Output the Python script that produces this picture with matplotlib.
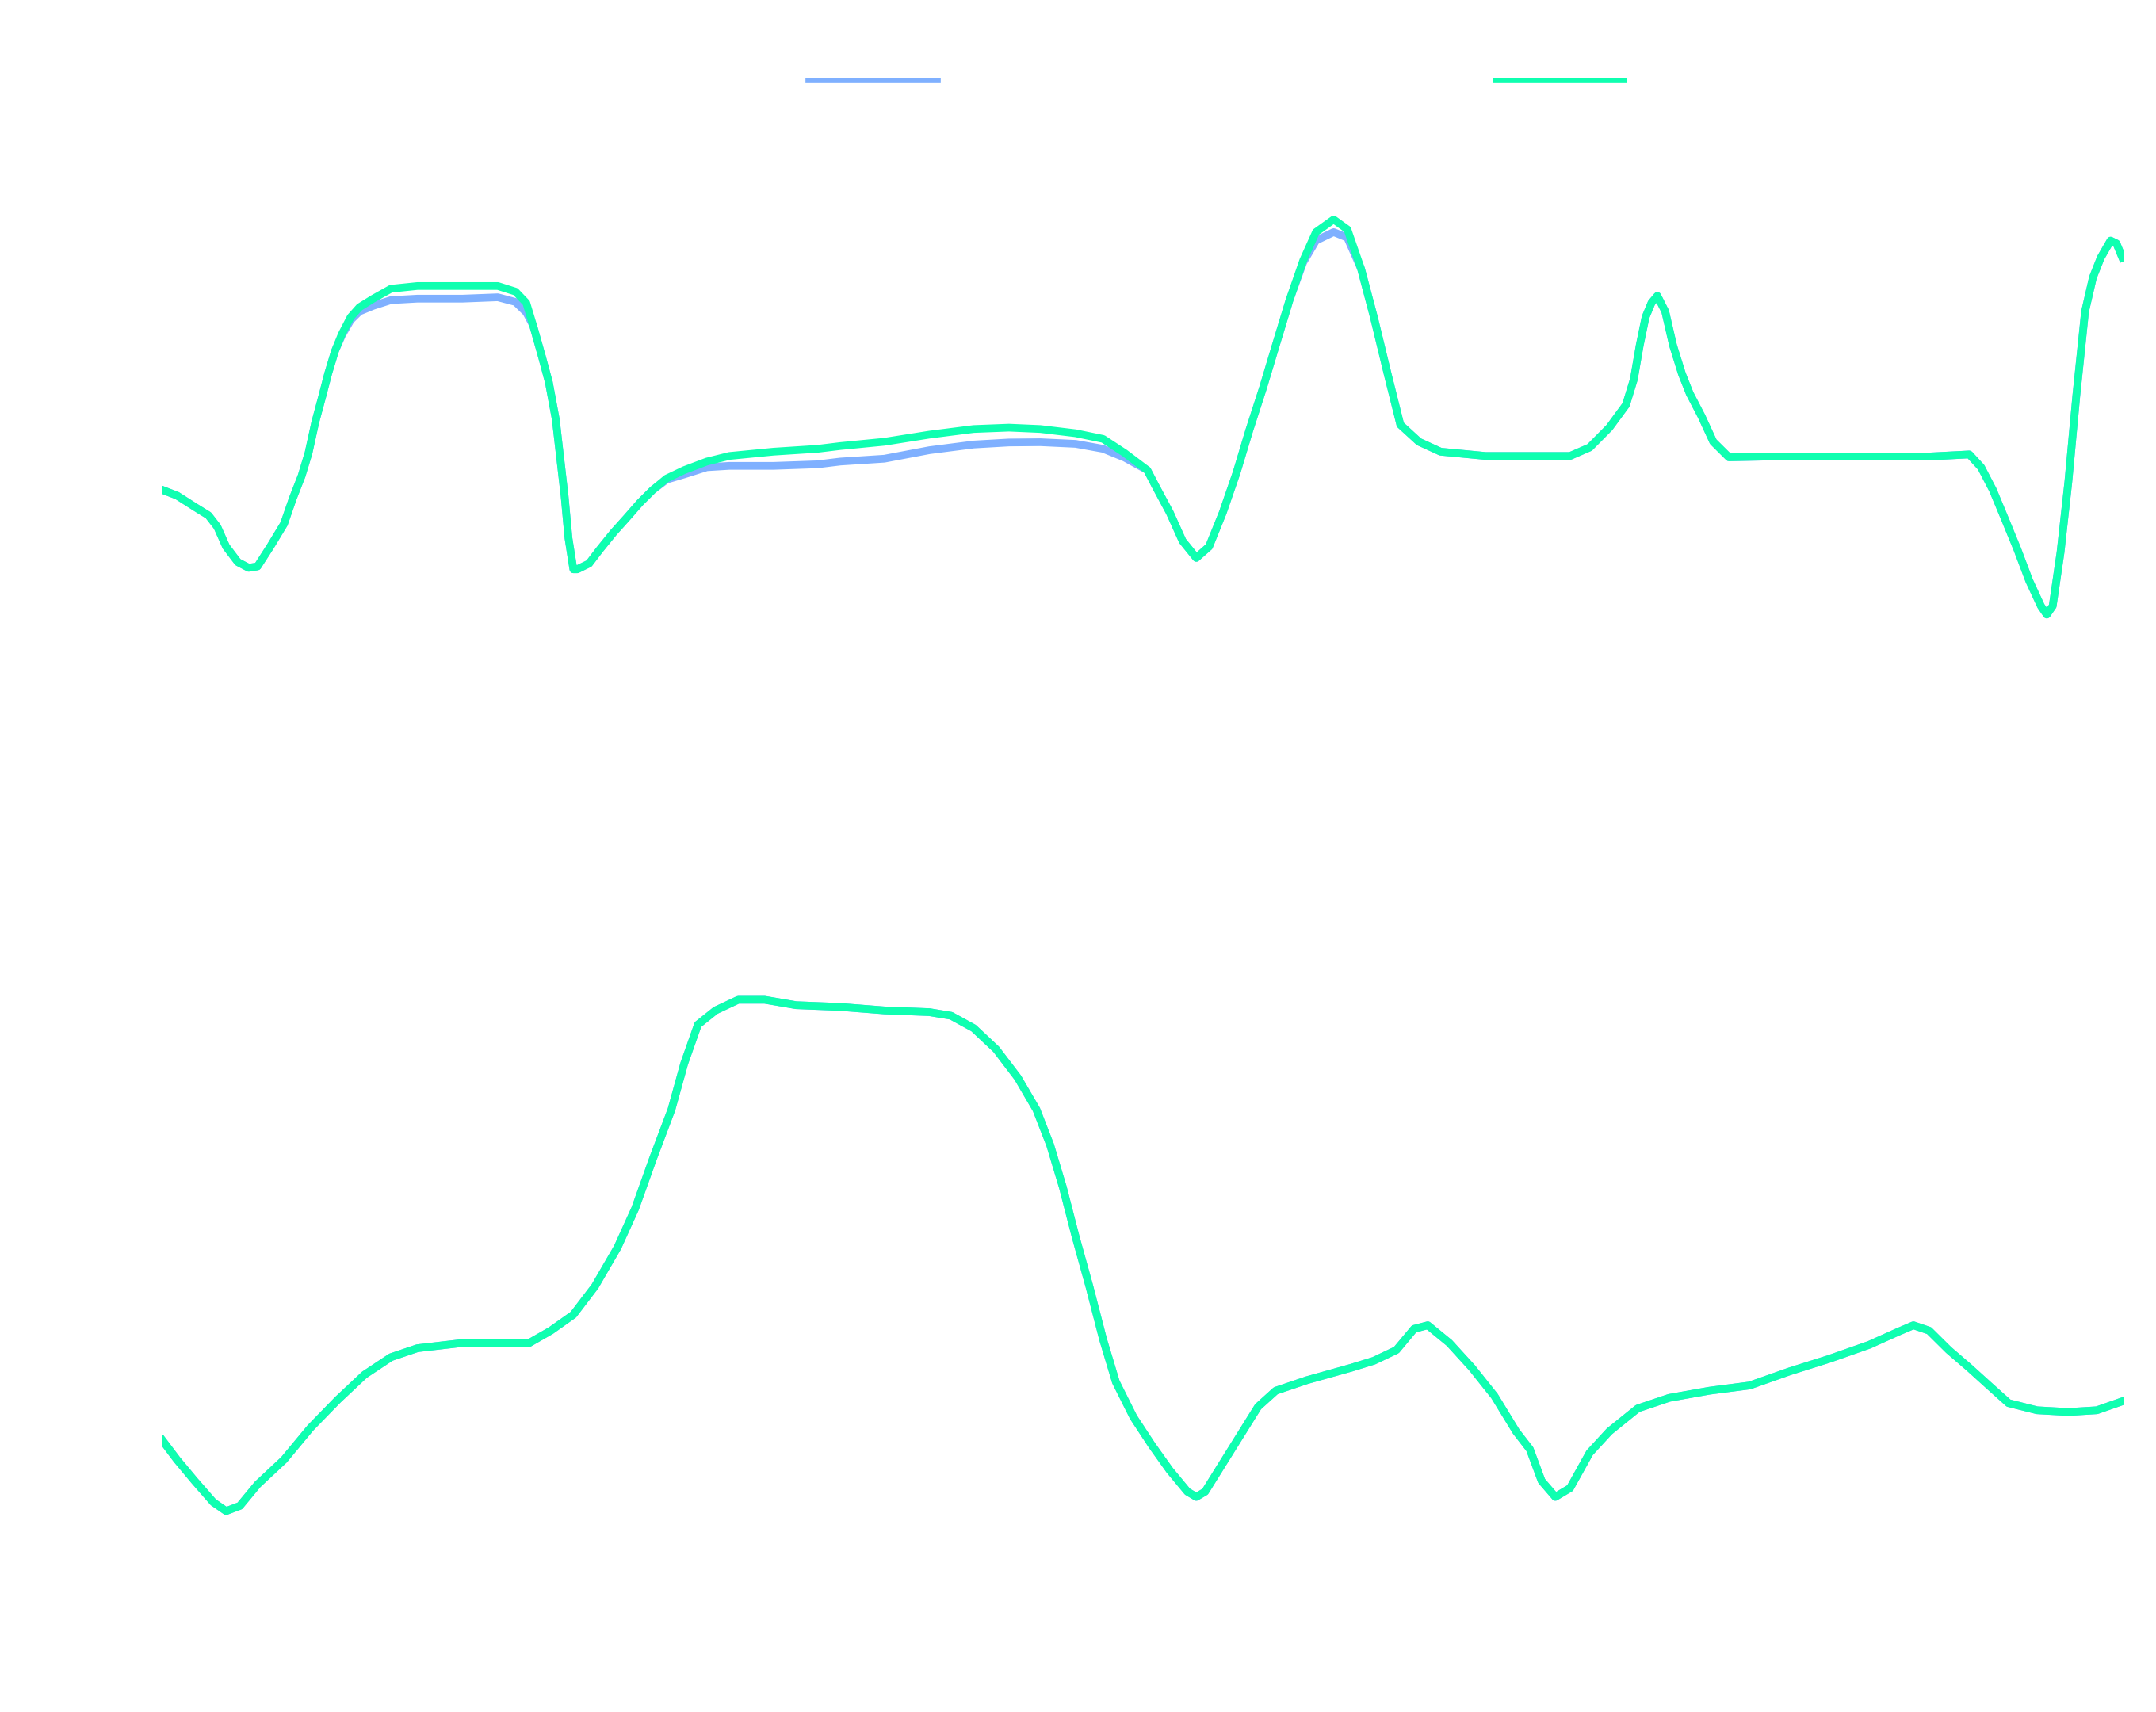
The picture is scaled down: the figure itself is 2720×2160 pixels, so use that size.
import matplotlib
matplotlib.use("Agg")
import matplotlib.pyplot as plt

# colours of the two series
COLOR_A = '#7fb0ff'
COLOR_B = '#0fffb0'

# ---- top panel (time in s, angle in deg) ----
top_t = [0.00, 0.15, 0.33, 0.47, 0.56, 0.65, 0.77, 0.88, 0.97, 1.10,
         1.24, 1.33, 1.42, 1.49, 1.56, 1.63, 1.69, 1.76, 1.83, 1.92,
         2.01, 2.15, 2.33, 2.60, 3.06, 3.42, 3.60, 3.71, 3.78, 3.87,
         3.94, 4.01, 4.05, 4.10, 4.14, 4.19, 4.23, 4.35, 4.46, 4.60,
         4.73, 4.87, 5.00, 5.14, 5.32, 5.55, 5.78, 6.23, 6.68, 6.91,
         7.36, 7.82, 8.27, 8.63, 8.95, 9.31, 9.59, 9.81, 10.04, 10.13,
         10.27, 10.40, 10.54, 10.67, 10.81, 10.95, 11.08, 11.22, 11.35, 11.49,
         11.63, 11.76, 11.94, 12.08, 12.22, 12.35, 12.49, 12.62, 12.81, 13.03,
         13.49, 13.94, 14.35, 14.55, 14.75, 14.92, 15.00, 15.06, 15.12, 15.18,
         15.24, 15.32, 15.40, 15.49, 15.57, 15.69, 15.81, 15.97, 16.38, 17.20,
         18.01, 18.42, 18.54, 18.66, 18.78, 18.91, 19.03, 19.15, 19.21, 19.27,
         19.35, 19.43, 19.51, 19.60, 19.68, 19.76, 19.86, 19.92, 19.98]

top_b = [8.43, 7.40, 5.35, 3.80, 1.73, -1.88, -4.70, -5.73, -5.48, -1.88,
         2.25, 6.88, 11.00, 15.13, 20.80, 25.43, 29.55, 33.68, 36.75, 39.85,
         41.65, 43.20, 45.00, 45.50, 45.50, 45.50, 44.48, 42.43, 38.30, 32.63,
         28.00, 21.30, 15.13, 7.40, -0.33, -6.00, -6.00, -4.95, -2.38, 0.70,
         3.28, 6.13, 8.43, 10.50, 12.03, 13.58, 14.60, 15.38, 15.90, 16.40,
         17.18, 18.48, 19.50, 19.75, 19.50, 18.73, 17.70, 15.13, 12.03, 8.95,
         4.30, -0.85, -3.93, -1.88, 4.30, 11.53, 19.25, 26.98, 34.70, 42.93,
         50.15, 55.30, 57.60, 55.80, 48.60, 39.85, 29.55, 20.28, 17.18, 15.38,
         14.60, 14.60, 14.60, 16.15, 19.75, 23.88, 28.53, 34.70, 39.85, 42.43,
         43.70, 40.88, 34.70, 29.55, 25.95, 21.83, 17.18, 14.35, 14.50, 14.50,
         14.50, 14.88, 12.55, 8.43, 3.28, -2.38, -8.05, -12.68, -14.23, -12.68,
         -2.90, 9.98, 25.43, 40.88, 47.05, 50.65, 53.75, 53.23, 50.65]

top_a = [8.43, 7.40, 5.35, 3.80, 1.73, -1.88, -4.70, -5.73, -5.48, -1.88,
         2.25, 6.88, 11.00, 15.13, 20.80, 25.43, 29.55, 33.68, 36.50, 39.30,
         40.88, 41.90, 42.93, 43.20, 43.20, 43.45, 42.60, 40.70, 38.30, 32.63,
         28.00, 21.30, 15.13, 7.40, -0.33, -6.00, -6.00, -4.95, -2.38, 0.70,
         3.28, 6.13, 8.43, 10.30, 11.25, 12.55, 12.80, 12.80, 13.08, 13.58,
         14.10, 15.65, 16.68, 17.05, 17.10, 16.80, 15.90, 14.30, 12.03, 8.95,
         4.30, -0.85, -3.93, -1.88, 4.30, 11.53, 19.25, 26.98, 34.70, 42.93,
         49.80, 53.75, 55.30, 54.28, 48.60, 39.85, 29.55, 20.28, 17.18, 15.38,
         14.60, 14.60, 14.60, 16.15, 19.75, 23.88, 28.53, 34.70, 39.85, 42.43,
         43.70, 40.88, 34.70, 29.55, 25.95, 21.83, 17.18, 14.35, 14.50, 14.50,
         14.50, 14.88, 12.55, 8.43, 3.28, -2.38, -8.05, -12.68, -14.23, -12.68,
         -2.90, 9.98, 25.43, 40.88, 47.05, 50.65, 53.75, 53.23, 50.65]

# ---- bottom panel ----
bot_t = [0.00, 0.15, 0.33, 0.52, 0.65, 0.79, 0.97, 1.24, 1.51, 1.79,
         2.06, 2.33, 2.60, 3.06, 3.74, 3.96, 4.19, 4.41, 4.64, 4.82,
         5.00, 5.19, 5.32, 5.46, 5.64, 5.87, 6.14, 6.46, 6.91, 7.36,
         7.82, 8.04, 8.27, 8.50, 8.72, 8.91, 9.05, 9.18, 9.31, 9.45,
         9.59, 9.72, 9.90, 10.09, 10.27, 10.45, 10.54, 10.63, 10.81, 10.99,
         11.17, 11.35, 11.67, 12.12, 12.35, 12.58, 12.76, 12.90, 13.12, 13.35,
         13.58, 13.80, 13.94, 14.06, 14.20, 14.35, 14.55, 14.75, 15.04, 15.36,
         15.77, 16.18, 16.59, 16.99, 17.40, 17.68, 17.85, 18.01, 18.21, 18.42,
         18.62, 18.82, 19.11, 19.43, 19.72, 19.98]

bot_b = [0.65, -2.90, -6.75, -10.63, -12.23, -11.28, -7.40, -2.90, 2.90, 8.03,
         12.55, 15.75, 17.38, 18.33, 18.33, 20.58, 23.48, 28.63, 35.70, 42.78,
         51.78, 60.78, 69.15, 76.23, 78.80, 80.73, 80.73, 79.75, 79.43, 78.80,
         78.48, 77.83, 75.58, 71.73, 66.58, 60.78, 54.35, 46.63, 37.63, 28.63,
         18.98, 11.25, 4.83, -0.33, -4.83, -8.70, -9.65, -8.70, -3.55, 1.60,
         6.75, 9.65, 11.58, 13.83, 15.10, 17.05, 20.90, 21.55, 18.33, 13.83,
         8.68, 2.25, -0.98, -6.75, -9.65, -8.05, -1.63, 2.25, 6.43, 8.35,
         9.65, 10.60, 13.18, 15.43, 18.00, 20.25, 21.55, 20.58, 17.05, 13.83,
         10.60, 7.40, 6.10, 5.78, 6.10, 7.73]

bot_a = list(bot_b)

SERIES_LABELS = ['Measured', 'Simulated']

LW = 3.5

fig = plt.figure(figsize=(13.6, 10.8), dpi=200)
fig.patch.set_facecolor('white')

ax1 = fig.add_axes([0.0753, 0.6225, 0.9100, 0.2731])
ax2 = fig.add_axes([0.0753, 0.0924, 0.9100, 0.3534])

l1, = ax1.plot(top_t, top_a, color=COLOR_A, lw=LW, solid_joinstyle='round')
l2, = ax1.plot(top_t, top_b, color=COLOR_B, lw=LW, solid_joinstyle='round')
ax2.plot(bot_t, bot_a, color=COLOR_A, lw=LW, solid_joinstyle='round')
ax2.plot(bot_t, bot_b, color=COLOR_B, lw=LW, solid_joinstyle='round')

ax1.set_xlim(0, 20)
ax1.set_ylim(-20, 65)
ax2.set_xlim(0, 20)
ax2.set_ylim(-20, 90)
for ax in (ax1, ax2):
    ax.axis('off')

leg = fig.legend([l1, l2], SERIES_LABELS, ncol=2, loc='center left',
                 bbox_to_anchor=(0.3747, 0.952), frameon=False,
                 fontsize=14, handlelength=4.2, handletextpad=0.8,
                 columnspacing=12.4, borderpad=0, borderaxespad=0)
for txt in leg.get_texts():
    txt.set_color('white')
for h in leg.legend_handles:
    h.set_linewidth(2.4)

fig.savefig('out.png', dpi=200, facecolor='white')
